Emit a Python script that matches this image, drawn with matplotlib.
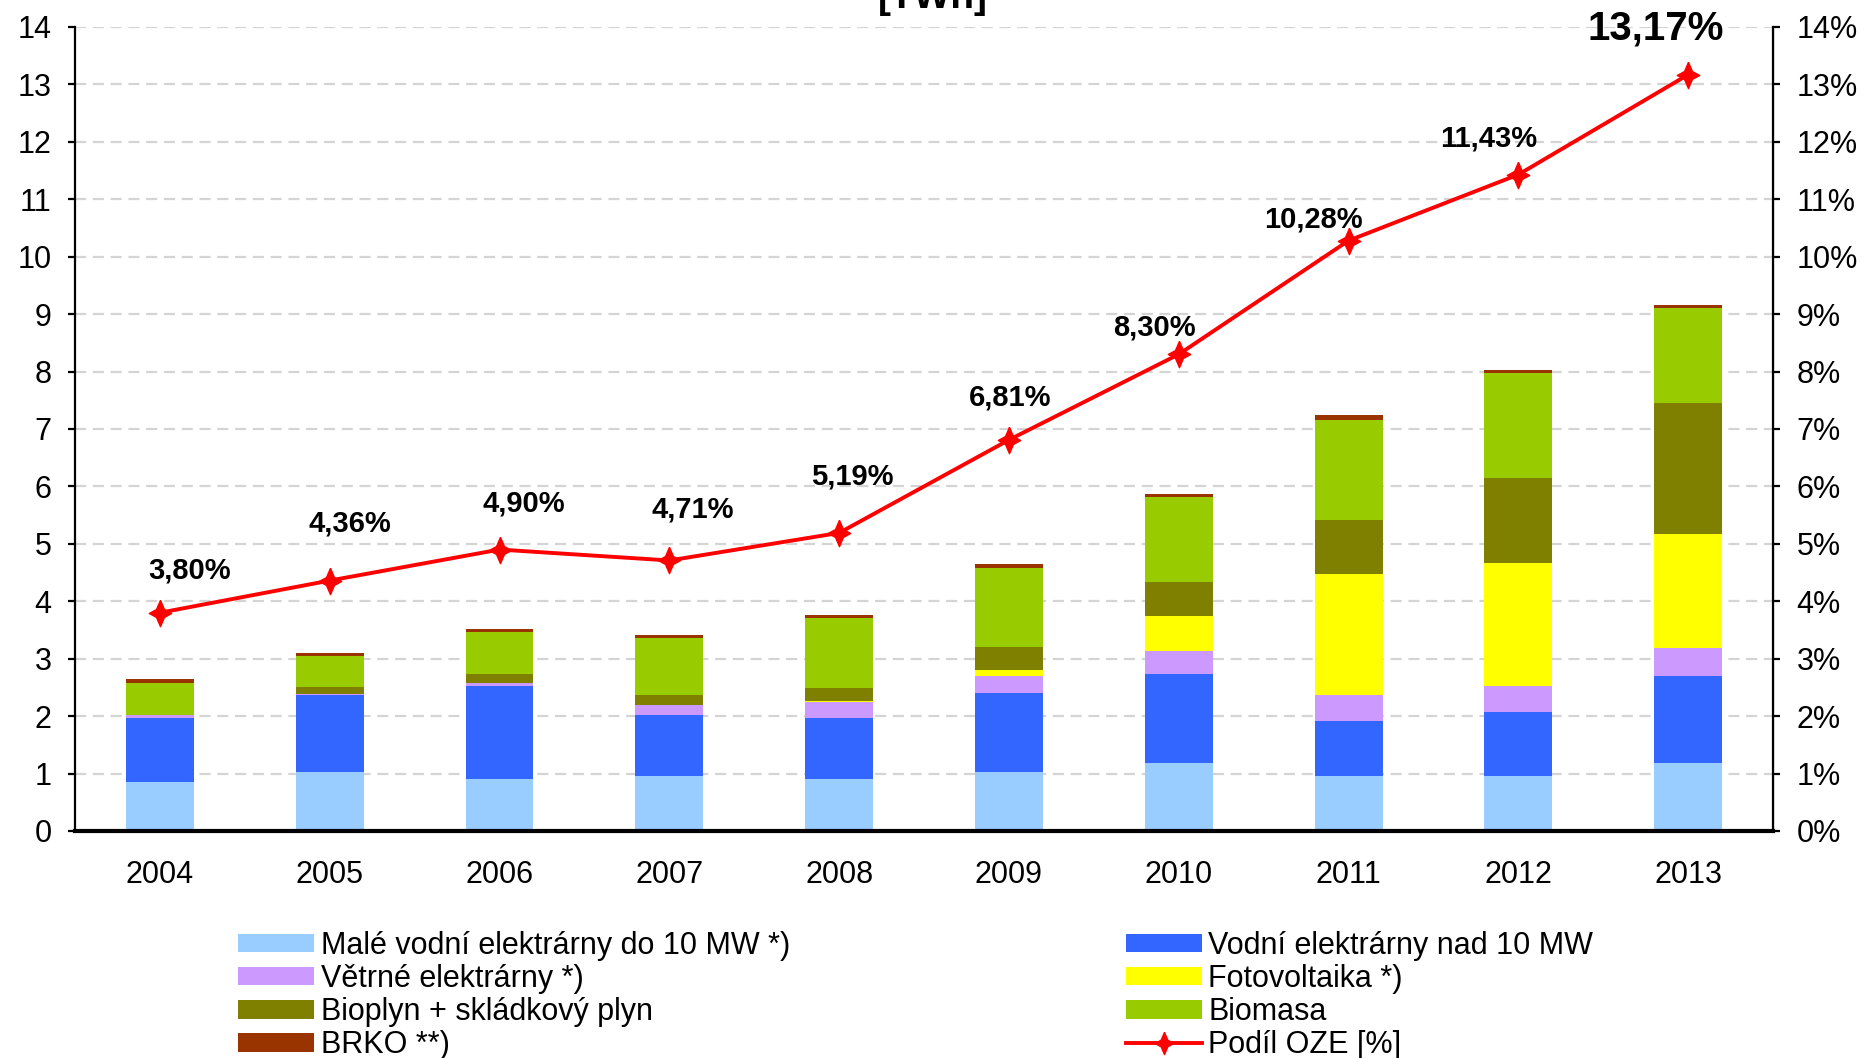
import matplotlib
matplotlib.use("Agg")
import matplotlib.pyplot as plt
import numpy as np
from matplotlib.lines import Line2D
from matplotlib.patches import Patch
from matplotlib.ticker import FuncFormatter

plt.rcParams['font.family'] = ['Liberation Sans', 'DejaVu Sans']

years = ['2004', '2005', '2006', '2007', '2008', '2009', '2010', '2011', '2012', '2013']
male_vodni = [0.86, 1.03, 0.91, 0.96, 0.91, 1.03, 1.19, 0.96, 0.96, 1.19]
vodni_nad10 = [1.11, 1.33, 1.62, 1.06, 1.06, 1.38, 1.55, 0.96, 1.12, 1.50]
vetrne = [0.05, 0.02, 0.05, 0.18, 0.28, 0.28, 0.39, 0.44, 0.45, 0.50]
fotovoltaika = [0.00, 0.00, 0.00, 0.00, 0.01, 0.11, 0.61, 2.12, 2.13, 1.98]
bioplyn = [0.00, 0.12, 0.16, 0.16, 0.23, 0.40, 0.59, 0.94, 1.49, 2.28]
biomasa = [0.56, 0.54, 0.72, 1.00, 1.21, 1.38, 1.48, 1.73, 1.82, 1.66]
brko = [0.06, 0.06, 0.06, 0.05, 0.06, 0.07, 0.05, 0.10, 0.05, 0.05]
podil_oze = [3.80, 4.36, 4.90, 4.71, 5.19, 6.81, 8.30, 10.28, 11.43, 13.17]
podil_labels = ['3,80%', '4,36%', '4,90%', '4,71%', '5,19%', '6,81%', '8,30%', '10,28%', '11,43%', '13,17%']

series_names = ['Malé vodní elektrárny do 10 MW *)', 'Vodní elektrárny nad 10 MW',
                'Větrné elektrárny *)', 'Fotovoltaika *)', 'Bioplyn + skládkový plyn',
                'Biomasa', 'BRKO **)']
line_name = 'Podíl OZE [%]'
colors = ['#99CCFF', '#3366FF', '#CC99FF', '#FFFF00', '#808000', '#99CC00', '#993300']

# label offsets (pixels) - styling
lab_dx = [30, 20, 24, 23, 13, 1, -24, -35, -30, -32]
lab_dy = [42, 57, 46, 51, 56, 42, 27, 21, 36, 46]

fig = plt.figure(figsize=(18.66, 10.58), dpi=100)
ax = fig.add_axes([0.0402, 0.2146, 0.9100, 0.7599])
ax2 = ax.twinx()

x = np.arange(len(years))
bottom = np.zeros(len(years))
data = [male_vodni, vodni_nad10, vetrne, fotovoltaika, bioplyn, biomasa, brko]
for vals, c in zip(data, colors):
    ax.bar(x, vals, 0.40, bottom=bottom, color=c, edgecolor='none', zorder=2)
    bottom += np.array(vals)

ax.set_xlim(-0.5, 9.5)
ax.set_ylim(0, 14)
ax.set_yticks(range(0, 15))
ax.set_xticks(x)
ax.set_xticklabels(years)
ax.yaxis.grid(True, color='#D4D4D4', linewidth=1.6, linestyle=(0, (5, 3)), zorder=0)
ax.set_axisbelow(True)

ax2.set_ylim(0, 14)
ax2.set_yticks(range(0, 15))
ax2.yaxis.set_major_formatter(FuncFormatter(lambda v, p: f'{int(v)}%'))

star = [(0, 1), (0.3, 0.3), (0.85, 0), (0.3, -0.3), (0, -1), (-0.3, -0.3), (-0.85, 0), (-0.3, 0.3), (0, 1)]
ax2.plot(x, podil_oze, color='#FF0000', linewidth=2.8, marker=star, markersize=19,
         markeredgecolor='#FF0000', markerfacecolor='#FF0000', zorder=5)

for i, (v, lab) in enumerate(zip(podil_oze, podil_labels)):
    fs = 29 if i == len(podil_oze) - 1 else 21
    ax2.annotate(lab, (x[i], v), xytext=(lab_dx[i], lab_dy[i]), textcoords='offset pixels',
                 ha='center', va='center', fontsize=fs, fontweight='bold', color='black',
                 annotation_clip=False)

for a in (ax, ax2):
    a.spines['top'].set_visible(False)
ax.spines['left'].set_linewidth(1.6)
ax.spines['bottom'].set_linewidth(3.0)
ax2.spines['right'].set_linewidth(1.6)
ax2.spines['left'].set_visible(False)
ax2.spines['bottom'].set_visible(False)

ax.tick_params(axis='y', direction='out', length=5, width=1.6, pad=12, labelsize=22)
ax.tick_params(axis='x', length=0, pad=21, labelsize=22)
ax2.tick_params(axis='y', direction='out', length=5, width=1.6, pad=12, labelsize=22)

fig.text(0.50, 1 - 8 / 1058, '[TWh]', ha='center', va='baseline', fontsize=28, fontweight='bold')

handles = [Patch(facecolor=c, edgecolor='none') for c in colors]
line_handle = Line2D([0], [0], color='#FF0000', linewidth=2.8, marker=star, markersize=16,
                     markerfacecolor='#FF0000', markeredgecolor='#FF0000')
left_h = [handles[0], handles[2], handles[4], handles[6]]
left_l = [series_names[0], series_names[2], series_names[4], series_names[6]]
right_h = [handles[1], handles[3], handles[5], line_handle]
right_l = [series_names[1], series_names[3], series_names[5], line_name]

common = dict(frameon=False, fontsize=22, handlelength=2.5, handleheight=0.55, handletextpad=0.2,
              labelspacing=0.1, borderpad=0, borderaxespad=0, loc='upper left')
leg1 = fig.legend(left_h, left_l, bbox_to_anchor=(0.1276, 0.120), **common)
leg2 = fig.legend(right_h, right_l, bbox_to_anchor=(0.6034, 0.120), **common)

fig.savefig('out.png', dpi=100)
